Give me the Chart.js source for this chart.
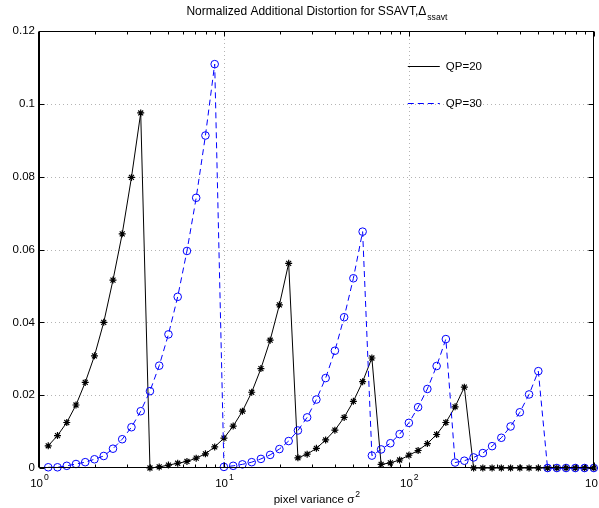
<!DOCTYPE html>
<html>
<head>
<meta charset="utf-8">
<script src="https://cdn.jsdelivr.net/npm/chart.js@4.4.1/dist/chart.umd.min.js"></script>
<style>
  html, body { margin: 0; padding: 0; background: #fff; }
</style>
</head>
<body>
<canvas id="chart" width="599" height="508"></canvas>
<script>
// pixel variance sample points (log spaced)
const sigma2 = [
  1.122, 1.259, 1.413, 1.585, 1.778, 1.995, 2.239, 2.512, 2.818, 3.162,
  3.548, 3.981, 4.467, 5.012, 5.623, 6.310, 7.079, 7.943, 8.913, 10.00,
  11.22, 12.59, 14.13, 15.85, 17.78, 19.95, 22.39, 25.12, 28.18, 31.62,
  35.48, 39.81, 44.67, 50.12, 56.23, 63.10, 70.79, 79.43, 89.13, 100.0,
  112.2, 125.9, 141.3, 158.5, 177.8, 199.5, 223.9, 251.2, 281.8, 316.2,
  354.8, 398.1, 446.7, 501.2, 562.3, 631.0, 707.9, 794.3, 891.3, 1000
]

const qp20 = [
  0.0061, 0.0089, 0.0125, 0.0173, 0.0235, 0.0308, 0.0400, 0.0516, 0.0643, 0.0798,
  0.0975, 0.0000, 0.0003, 0.0008, 0.0013, 0.0018, 0.0027, 0.0039, 0.0058, 0.0082,
  0.0115, 0.0156, 0.0208, 0.0273, 0.0351, 0.0448, 0.0562, 0.0028, 0.0038, 0.0054,
  0.0077, 0.0104, 0.0139, 0.0183, 0.0237, 0.0302, 0.0010, 0.0014, 0.0022, 0.0035,
  0.0048, 0.0067, 0.0092, 0.0125, 0.0168, 0.0222, 0, 0, 0, 0,
  0, 0, 0, 0, 0, 0, 0, 0, 0, 0
]

const qp30 = [
  0.0002, 0.0002, 0.0006, 0.0011, 0.0016, 0.0024, 0.0033, 0.0053, 0.0079, 0.0112,
  0.0156, 0.0211, 0.0281, 0.0367, 0.0470, 0.0596, 0.0742, 0.0913, 0.1109, 0.0003,
  0.0006, 0.0010, 0.0016, 0.0025, 0.0036, 0.0052, 0.0074, 0.0103, 0.0139, 0.0188,
  0.0247, 0.0322, 0.0414, 0.0521, 0.0649, 0.0034, 0.0051, 0.0068, 0.0093, 0.0124,
  0.0167, 0.0217, 0.0280, 0.0354, 0.0015, 0.0020, 0.0029, 0.0041, 0.0060, 0.0083,
  0.0114, 0.0153, 0.0202, 0.0266, 0, 0, 0, 0, 0, 0
]

const seriesNames = ['QP=20', 'QP=30']
const yTicks = [0, 0.02, 0.04, 0.06, 0.08, 0.1, 0.12]
const yTickLabels = ['0', '0.02', '0.04', '0.06', '0.08', '0.1', '0.12']
const xDecades = [1, 10, 100, 1000]
const xDecadeExp = ['0', '1', '2', '3']

const FONT = '"Liberation Sans", Arial, Helvetica, sans-serif'
const BLUE = '#0000ff'

function toPoints(xs, ys) {
  return xs.map((x, i) => ({ x, y: ys[i] }))
}

// draws text with a raised or lowered smaller suffix
function drawScripted(ctx, base, script, x, y, size, shift, align, ratio = 0.75) {
  ctx.font = `${size}px ${FONT}`
  const wBase = ctx.measureText(base).width
  ctx.font = `${size * ratio}px ${FONT}`
  const wScript = ctx.measureText(script).width
  let left = x
  if (align === 'center') left = x - (wBase + wScript) / 2
  ctx.textAlign = 'left'
  ctx.textBaseline = 'alphabetic'
  ctx.font = `${size}px ${FONT}`
  ctx.fillText(base, left, y)
  ctx.font = `${size * ratio}px ${FONT}`
  ctx.fillText(script, left + wBase + 1, y + shift)
}

const matlabAxes = {
  id: 'matlabAxes',
  beforeDatasetsDraw(chart) {
    const { ctx, chartArea: a, scales } = chart
    ctx.save()
    ctx.strokeStyle = '#b4b4b4'
    ctx.lineWidth = 1
    ctx.setLineDash([1, 3])
    yTicks.slice(1, -1).forEach(v => {
      const py = Math.round(scales.y.getPixelForValue(v)) + 0.5
      ctx.beginPath()
      ctx.moveTo(a.left, py)
      ctx.lineTo(a.right, py)
      ctx.stroke()
    })
    xDecades.slice(1, -1).forEach(v => {
      const px = Math.round(scales.x.getPixelForValue(v)) + 0.5
      ctx.beginPath()
      ctx.moveTo(px, a.top)
      ctx.lineTo(px, a.bottom)
      ctx.stroke()
    })
    ctx.restore()
  },
  afterDatasetsDraw(chart) {
    const { ctx, chartArea: a, scales } = chart
    ctx.save()
    ctx.strokeStyle = '#000'
    ctx.lineWidth = 1
    ctx.setLineDash([])
    const L = Math.round(a.left) + 0.5, R = Math.round(a.right) - 0.5
    const T = Math.round(a.top) + 0.5, B = Math.round(a.bottom) - 0.5
    ctx.strokeRect(L, T, R - L, B - T)
    // left axis looks heavier in the original
    ctx.beginPath()
    ctx.moveTo(L - 1, T); ctx.lineTo(L - 1, B)
    ctx.stroke()
    ctx.beginPath()
    yTicks.forEach(v => {
      const py = Math.round(scales.y.getPixelForValue(v)) + 0.5
      ctx.moveTo(L, py); ctx.lineTo(L + 5, py)
      ctx.moveTo(R, py); ctx.lineTo(R - 5, py)
    })
    for (let d = 0; d < xDecades.length; d++) {
      const dec = xDecades[d]
      const px = Math.round(scales.x.getPixelForValue(dec)) + 0.5
      ctx.moveTo(px, B); ctx.lineTo(px, B - 5)
      ctx.moveTo(px, T); ctx.lineTo(px, T + 5)
      if (d < xDecades.length - 1) {
        for (let m = 2; m <= 9; m++) {
          const mx = Math.round(scales.x.getPixelForValue(dec * m)) + 0.5
          ctx.moveTo(mx, B); ctx.lineTo(mx, B - 3)
          ctx.moveTo(mx, T); ctx.lineTo(mx, T + 3)
        }
      }
    }
    ctx.stroke()
    ctx.restore()
  },
  afterDraw(chart) {
    const { ctx, chartArea: a, scales } = chart
    ctx.save()
    ctx.fillStyle = '#000'

    // y tick labels
    ctx.font = `11.5px ${FONT}`
    ctx.textAlign = 'right'
    ctx.textBaseline = 'middle'
    yTicks.forEach((v, i) => {
      ctx.fillText(yTickLabels[i], a.left - 4, scales.y.getPixelForValue(v))
    })

    // x tick labels, 10^n
    xDecades.forEach((v, i) => {
      drawScripted(ctx, '10', xDecadeExp[i], scales.x.getPixelForValue(v), a.bottom + 19, 11.5, -7, 'center')
    })

    // title and axis label
    const cx = (a.left + a.right) / 2
    drawScripted(ctx, 'Normalized Additional Distortion for SSAVT,\u0394', 'ssavt', cx, 15, 12, 5, 'center', 0.72)
    drawScripted(ctx, 'pixel variance \u03c3', '2', cx, 503, 11.5, -6, 'center')

    // legend, no box
    const lx = a.right - 186
    const rows = [a.top + 35, a.top + 72]
    const styles = [
      { color: '#000', dash: [] },
      { color: BLUE, dash: [6, 4] }
    ]
    rows.forEach((ry, i) => {
      ctx.strokeStyle = styles[i].color
      ctx.lineWidth = 1
      ctx.setLineDash(styles[i].dash)
      ctx.beginPath()
      ctx.moveTo(lx, ry + 0.5)
      ctx.lineTo(lx + 32, ry + 0.5)
      ctx.stroke()
      ctx.setLineDash([])
      ctx.fillStyle = '#000'
      ctx.font = `11.5px ${FONT}`
      ctx.textAlign = 'left'
      ctx.textBaseline = 'middle'
      ctx.fillText(seriesNames[i], lx + 38, ry + 1)
    })
    ctx.restore()
  }
}

new Chart(document.getElementById('chart'), {
  type: 'scatter',
  data: {
    datasets: [
      {
        label: seriesNames[0],
        data: toPoints(sigma2, qp20),
        showLine: true,
        borderColor: '#000',
        borderWidth: 1,
        pointStyle: 'star',
        pointRadius: 3.5,
        pointBorderColor: '#000',
        pointBackgroundColor: '#000',
        pointBorderWidth: 1.2,
        clip: false,
        order: 1
      },
      {
        label: seriesNames[1],
        data: toPoints(sigma2, qp30),
        showLine: true,
        borderColor: BLUE,
        borderWidth: 1,
        borderDash: [6, 4],
        pointStyle: 'circle',
        pointRadius: 3.8,
        pointBorderColor: BLUE,
        pointBackgroundColor: 'rgba(0,0,0,0)',
        pointBorderWidth: 1,
        clip: false,
        order: 0
      }
    ]
  },
  options: {
    responsive: false,
    animation: false,
    devicePixelRatio: 1,
    layout: { padding: { left: 39, right: 3, top: 31, bottom: 40 } },
    plugins: {
      legend: { display: false },
      tooltip: { enabled: false },
      title: { display: false }
    },
    scales: {
      x: { type: 'logarithmic', min: 1, max: 1000, display: false },
      y: { type: 'linear', min: 0, max: 0.12, display: false }
    }
  },
  plugins: [matlabAxes]
})
</script>
</body>
</html>
